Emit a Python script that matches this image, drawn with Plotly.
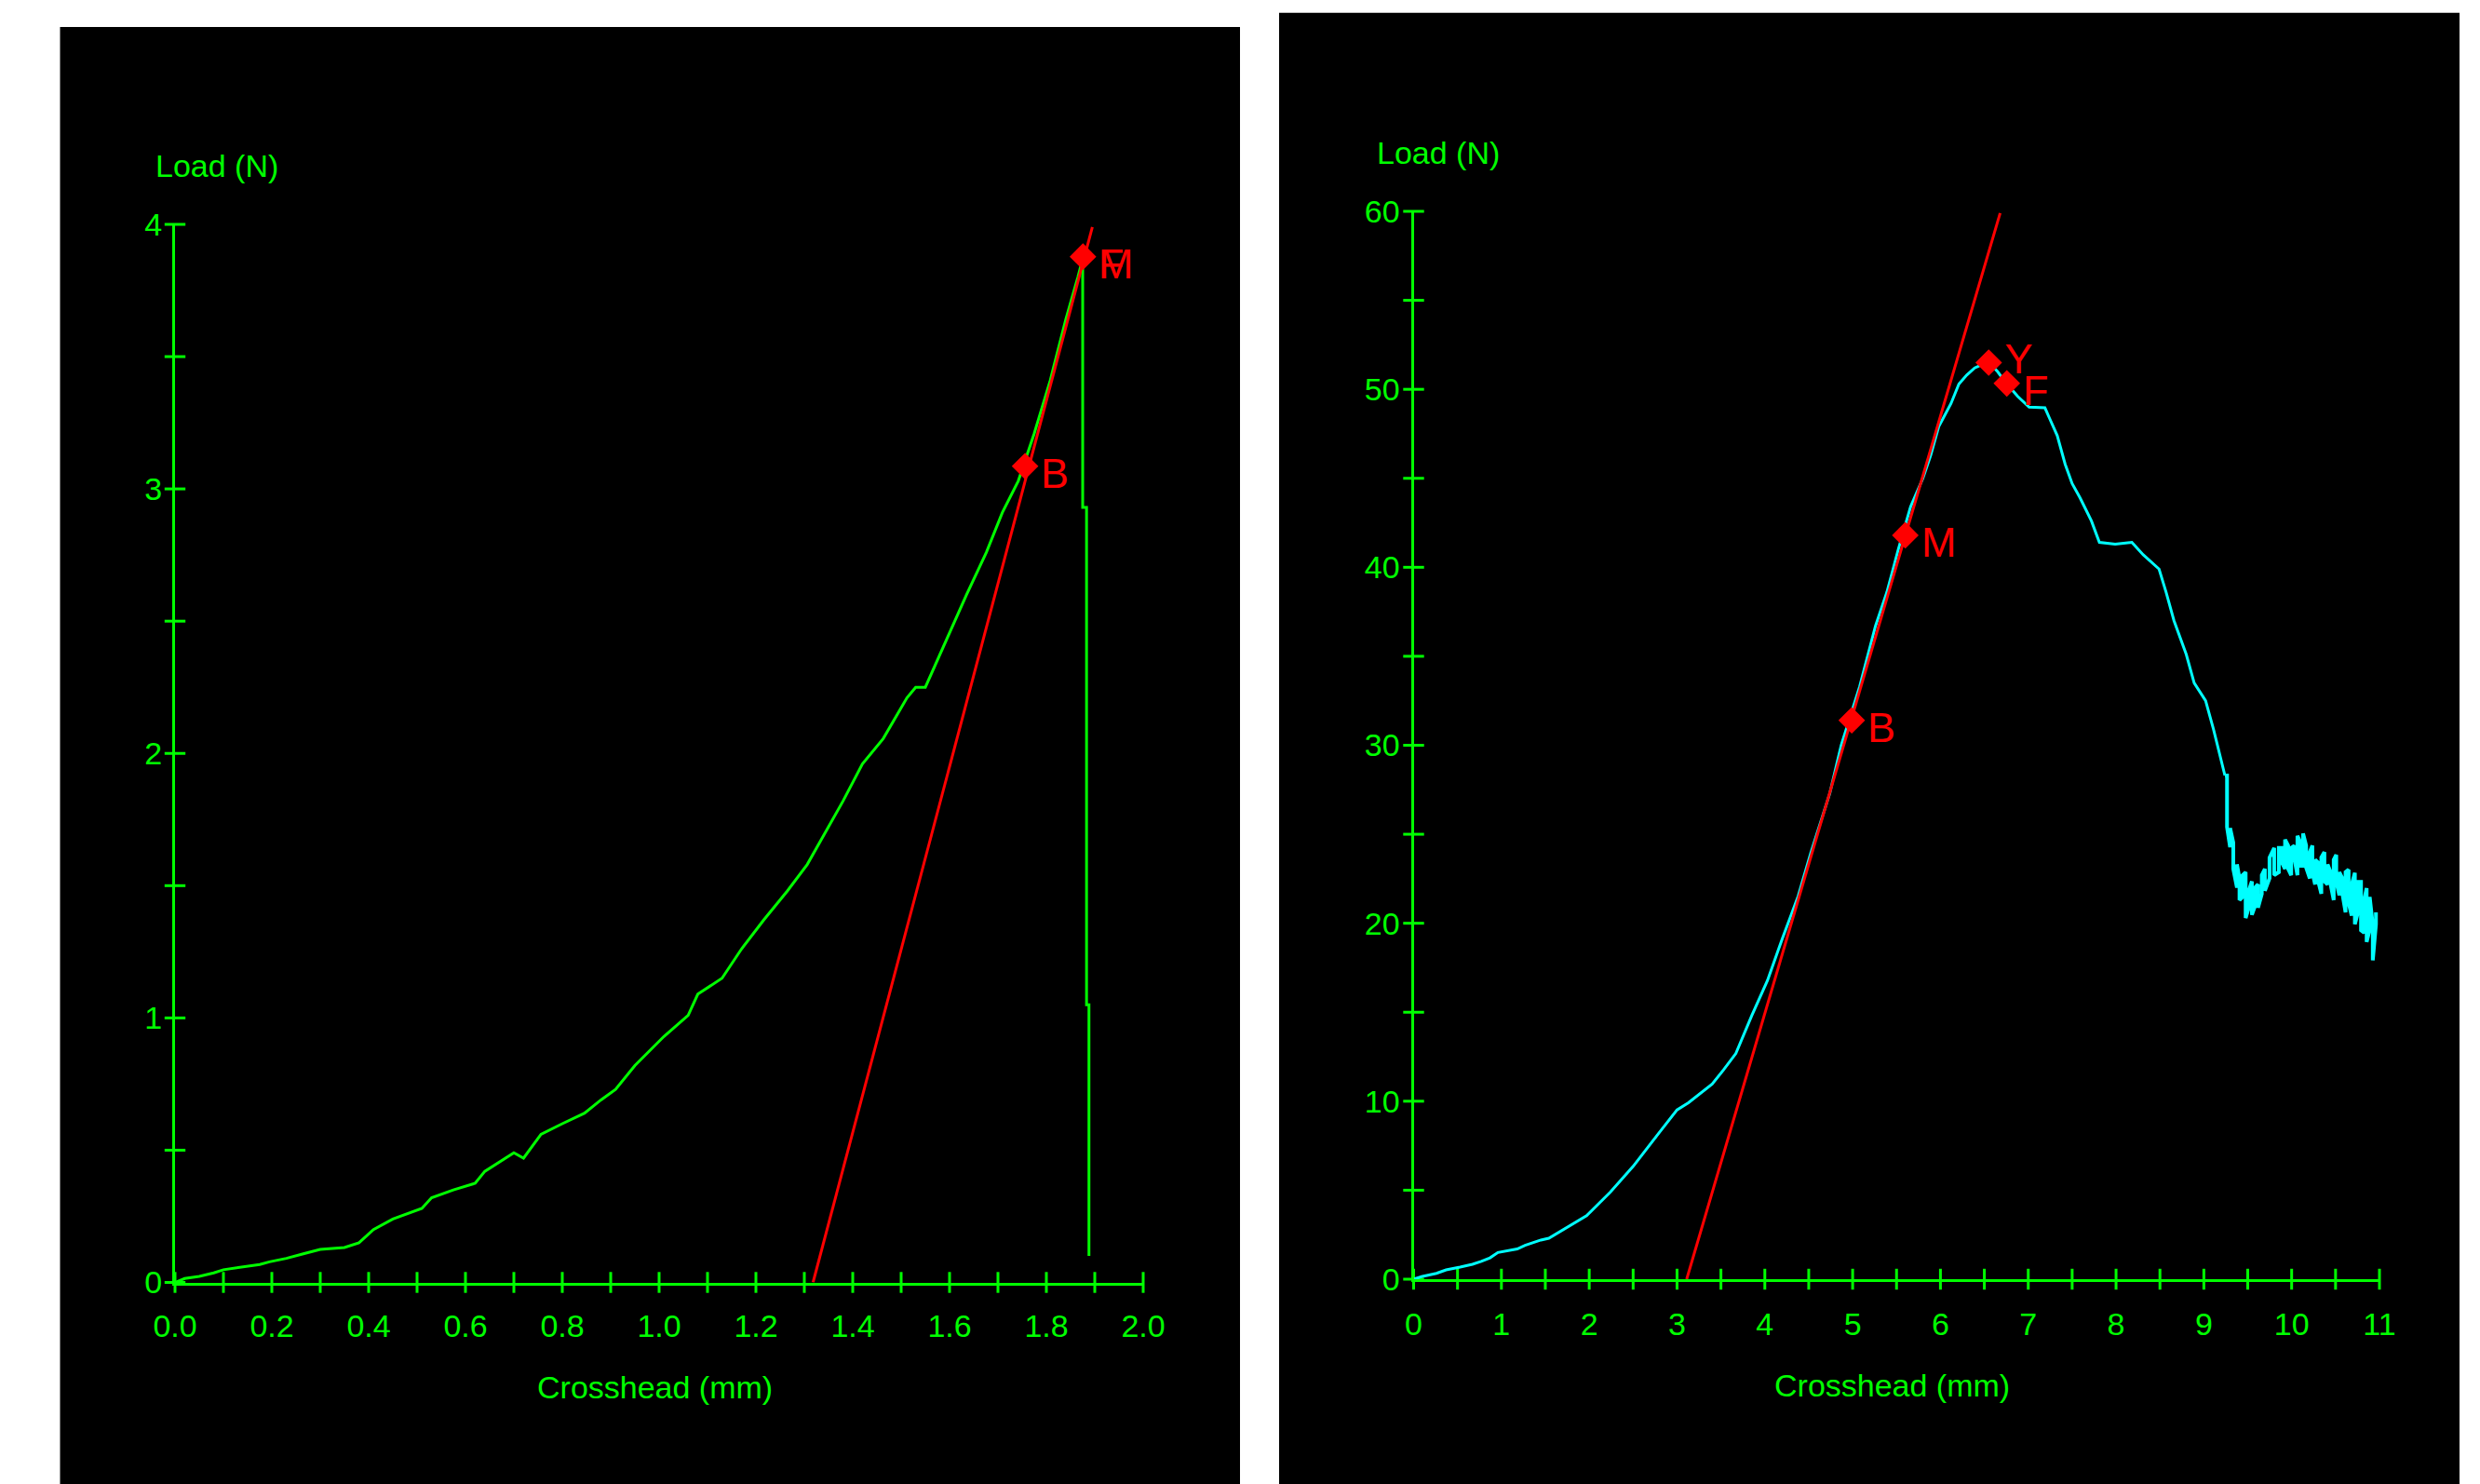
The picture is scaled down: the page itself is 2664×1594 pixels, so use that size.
import plotly.graph_objects as go

W, H = 2664, 1594
PAGE_OFF = 8  # the html body margin shifts the figure by this many pixels
GREEN = "#00FF00"
CYAN = "#00FFFF"
RED = "#FF0000"
FONT = "Liberation Sans, Arial, sans-serif"

# ---------------- Left chart data ----------------
left_x = [0.0, 0.02, 0.05, 0.08, 0.10, 0.14, 0.175, 0.195, 0.23, 0.265, 0.30, 0.35,
          0.38, 0.41, 0.45, 0.51, 0.53, 0.575, 0.62, 0.64, 0.70, 0.72, 0.756, 0.80,
          0.846, 0.88, 0.91, 0.95, 1.01, 1.06, 1.08, 1.13, 1.17, 1.216, 1.265, 1.306,
          1.34, 1.38, 1.42, 1.463, 1.512, 1.530, 1.55, 1.586, 1.635, 1.676, 1.709,
          1.742, 1.775, 1.808, 1.84, 1.865, 1.875, 1.875, 1.883, 1.883, 1.888, 1.888]
left_y = [0.0, 0.015, 0.023, 0.036, 0.048, 0.058, 0.068, 0.078, 0.091, 0.108, 0.125, 0.132,
          0.15, 0.20, 0.24, 0.28, 0.32, 0.35, 0.375, 0.42, 0.49, 0.47, 0.56, 0.60,
          0.64, 0.69, 0.73, 0.82, 0.93, 1.01, 1.09, 1.15, 1.26, 1.37, 1.48, 1.58,
          1.69, 1.82, 1.96, 2.056, 2.21, 2.25, 2.25, 2.40, 2.60, 2.76, 2.91,
          3.03, 3.21, 3.41, 3.64, 3.80, 3.87, 2.93, 2.93, 1.05, 1.05, 0.10]

left_fit_x = [1.318, 1.895]
left_fit_y = [0.0, 3.99]

left_pts_x = [1.756, 1.8756]
left_pts_y = [3.086, 3.878]
left_pt_labels = [["B"], ["F", "M"]]

left_xtick_vals = [0.0, 0.2, 0.4, 0.6, 0.8, 1.0, 1.2, 1.4, 1.6, 1.8, 2.0]
left_xtick_text = ["0.0", "0.2", "0.4", "0.6", "0.8", "1.0", "1.2", "1.4", "1.6", "1.8", "2.0"]
left_ytick_vals = [0, 1, 2, 3, 4]
left_ytick_text = ["0", "1", "2", "3", "4"]
left_xmarks = [i / 10 for i in range(21)]
left_ymarks = [i / 2 for i in range(9)]

# ---------------- Right chart data ----------------
right_x = [0.0, 0.09, 0.26, 0.37, 0.53, 0.67, 0.77, 0.87, 0.96, 1.09, 1.18, 1.27, 1.37,
           1.45, 1.54, 1.7, 1.97, 2.24, 2.5, 2.77, 3.0, 3.13, 3.4, 3.53, 3.67, 3.85,
           4.03, 4.2, 4.38, 4.52, 4.74, 4.87, 5.08, 5.26, 5.39, 5.52, 5.66, 5.8, 5.89,
           5.98, 6.12, 6.21, 6.3, 6.39, 6.48, 6.55, 6.65, 6.74, 6.88, 7.01, 7.19, 7.24,
           7.33, 7.42, 7.5, 7.59, 7.72, 7.81, 7.99, 8.18, 8.31, 8.49, 8.57, 8.66, 8.8,
           8.89, 9.02, 9.11, 9.17, 9.24]
right_y = [0.0, 0.14, 0.33, 0.52, 0.68, 0.84, 1.0, 1.2, 1.5, 1.6, 1.7, 1.9, 2.07,
           2.2, 2.3, 2.77, 3.57, 4.89, 6.34, 8.06, 9.51, 9.91, 10.96, 11.76, 12.68, 14.8,
           16.78, 19.15, 21.53, 23.9, 27.3, 30.0, 33.3, 36.7, 38.6, 41.0, 43.4, 45.0, 46.3,
           47.9, 49.2, 50.3, 50.8, 51.2, 51.4, 51.5, 51.0, 50.4, 49.6, 49.0, 48.96, 48.4,
           47.4, 45.8, 44.7, 43.9, 42.6, 41.4, 41.3, 41.4, 40.7, 39.9, 38.6, 37.0, 35.1,
           33.5, 32.5, 30.9, 29.7, 28.3]

# noisy tail: per column, upper and lower extent of the jagged trace
noise_x = [9.264, 9.299, 9.335, 9.377, 9.406, 9.441, 9.476, 9.511, 9.547, 9.582,
           9.617, 9.660, 9.695, 9.748, 9.801, 9.854, 9.890, 9.925, 9.960, 9.995,
           10.031, 10.066, 10.101, 10.130, 10.165, 10.207, 10.236, 10.267, 10.303, 10.338,
           10.373, 10.409, 10.444, 10.479, 10.508, 10.543, 10.578, 10.614, 10.649, 10.684,
           10.720, 10.755, 10.790, 10.826, 10.854, 10.889, 10.924, 10.960]
noise_hi = [28.3, 25.35, 24.53, 23.31, 22.52, 22.70, 22.87, 21.82, 22.35, 22.0,
            22.18, 22.70, 23.05, 23.69, 24.23, 24.23, 24.23, 24.70, 24.36, 24.23,
            24.36, 24.91, 24.53, 25.05, 24.36, 24.00, 24.36, 23.57, 23.40, 23.69,
            24.00, 23.31, 22.87, 23.57, 23.84, 22.87, 22.52, 22.87, 23.01, 22.18,
            22.83, 22.32, 22.32, 21.30, 21.97, 21.48, 19.91, 20.61]
noise_lo = [25.4, 24.27, 23.05, 22.00, 21.30, 21.48, 20.29, 20.87, 20.47, 20.96,
            20.87, 21.65, 21.82, 22.52, 22.70, 22.87, 23.40, 23.05, 23.05, 22.70,
            23.66, 22.70, 23.22, 23.22, 23.13, 22.52, 22.87, 22.18, 22.35, 21.65,
            22.35, 22.18, 22.18, 21.30, 22.35, 21.57, 21.65, 20.61, 21.13, 20.43,
            19.94, 20.61, 19.60, 19.47, 18.95, 19.65, 17.91, 19.94]

right_fit_x = [3.11, 6.68]
right_fit_y = [0.0, 59.9]

right_pts_x = [4.99, 5.60, 6.55, 6.756]
right_pts_y = [31.4, 41.8, 51.5, 50.33]
right_pt_labels = ["B", "M", "Y", "F"]

right_xtick_vals = [0, 1, 2, 3, 4, 5, 6, 7, 8, 9, 10, 11]
right_xtick_text = ["0", "1", "2", "3", "4", "5", "6", "7", "8", "9", "10", "11"]
right_ytick_vals = [0, 10, 20, 30, 40, 50, 60]
right_ytick_text = ["0", "10", "20", "30", "40", "50", "60"]
right_xmarks = [i / 2 for i in range(23)]
right_ymarks = [i * 5 for i in range(13)]

# zig-zag ordering for the noisy tail (alternate high/low per column),
# starting from the last point of the smooth part so the line is continuous
zz_x, zz_y = [right_x[-1]], [right_y[-1]]
for i, (xv, hv, lv) in enumerate(zip(noise_x, noise_hi, noise_lo)):
    pair = (hv, lv) if i % 2 == 0 else (lv, hv)
    zz_x += [xv, xv]
    zz_y += list(pair)

fig = go.Figure()

tick_marker = dict(size=16, line=dict(width=3, color=GREEN))
# tick marks crossing the axes
fig.add_trace(go.Scatter(x=left_xmarks, y=[0] * len(left_xmarks), mode="markers",
                         marker=dict(symbol="line-ns", **tick_marker),
                         xaxis="x", yaxis="y", cliponaxis=False, hoverinfo="skip", showlegend=False))
fig.add_trace(go.Scatter(x=[0] * len(left_ymarks), y=left_ymarks, mode="markers",
                         marker=dict(symbol="line-ew", **tick_marker),
                         xaxis="x", yaxis="y", cliponaxis=False, hoverinfo="skip", showlegend=False))
fig.add_trace(go.Scatter(x=right_xmarks, y=[0] * len(right_xmarks), mode="markers",
                         marker=dict(symbol="line-ns", **tick_marker),
                         xaxis="x2", yaxis="y2", cliponaxis=False, hoverinfo="skip", showlegend=False))
fig.add_trace(go.Scatter(x=[0] * len(right_ymarks), y=right_ymarks, mode="markers",
                         marker=dict(symbol="line-ew", **tick_marker),
                         xaxis="x2", yaxis="y2", cliponaxis=False, hoverinfo="skip", showlegend=False))

# left curves
fig.add_trace(go.Scatter(x=left_x, y=left_y, mode="lines", line=dict(color=GREEN, width=3),
                         xaxis="x", yaxis="y", cliponaxis=False, showlegend=False))
fig.add_trace(go.Scatter(x=left_fit_x, y=left_fit_y, mode="lines", line=dict(color=RED, width=3),
                         xaxis="x", yaxis="y", cliponaxis=False, showlegend=False))
fig.add_trace(go.Scatter(x=left_pts_x, y=left_pts_y, mode="markers",
                         marker=dict(symbol="diamond", size=22, color=RED, line=dict(width=0)),
                         xaxis="x", yaxis="y", cliponaxis=False, showlegend=False))

# right curves
fig.add_trace(go.Scatter(x=right_x, y=right_y, mode="lines", line=dict(color=CYAN, width=3),
                         xaxis="x2", yaxis="y2", cliponaxis=False, showlegend=False))
fig.add_trace(go.Scatter(x=zz_x, y=zz_y, mode="lines", line=dict(color=CYAN, width=4),
                         xaxis="x2", yaxis="y2", cliponaxis=False, showlegend=False))
fig.add_trace(go.Scatter(x=right_fit_x, y=right_fit_y, mode="lines", line=dict(color=RED, width=3),
                         xaxis="x2", yaxis="y2", cliponaxis=False, showlegend=False))
# "Y" label drawn beneath the markers (it is partly hidden by the F diamond)
fig.add_trace(go.Scatter(x=[right_pts_x[2]], y=[right_pts_y[2]], mode="markers+text",
                         text=[right_pt_labels[2]], textposition="middle right",
                         textfont=dict(family=FONT, size=45, color=RED),
                         marker=dict(size=26, opacity=0),
                         xaxis="x2", yaxis="y2", cliponaxis=False, showlegend=False))
fig.add_trace(go.Scatter(x=right_pts_x, y=right_pts_y, mode="markers",
                         marker=dict(symbol="diamond", size=22, color=RED, line=dict(width=0)),
                         xaxis="x2", yaxis="y2", cliponaxis=False, showlegend=False))

annotations = []
for xv, yv, labs in zip(left_pts_x, left_pts_y, left_pt_labels):
    for lab in labs:
        annotations.append(dict(x=xv, y=yv, xref="x", yref="y", text=lab, showarrow=False,
                                xanchor="left", yanchor="middle", xshift=15, yshift=-8,
                                font=dict(family=FONT, size=45, color=RED)))
for xv, yv, lab in zip(right_pts_x, right_pts_y, right_pt_labels):
    if lab == "Y":
        continue
    annotations.append(dict(x=xv, y=yv, xref="x2", yref="y2", text=lab, showarrow=False,
                            xanchor="left", yanchor="middle", xshift=15, yshift=-8,
                            font=dict(family=FONT, size=45, color=RED)))


def tx(p):
    return (p - PAGE_OFF) / W


def ty(p):
    return 1 - (p - PAGE_OFF) / H


title_font = dict(family=FONT, size=34, color=GREEN)
annotations += [
    dict(x=tx(233), y=ty(178), xref="paper", yref="paper", text="Load (N)", showarrow=False,
         xanchor="center", yanchor="middle", font=title_font),
    dict(x=tx(1544.5), y=ty(164), xref="paper", yref="paper", text="Load (N)", showarrow=False,
         xanchor="center", yanchor="middle", font=title_font),
    dict(x=tx(703), y=ty(1490), xref="paper", yref="paper", text="Crosshead (mm)", showarrow=False,
         xanchor="center", yanchor="middle", font=title_font),
    dict(x=tx(2032), y=ty(1488), xref="paper", yref="paper", text="Crosshead (mm)", showarrow=False,
         xanchor="center", yanchor="middle", font=title_font),
]

shapes = [
    dict(type="rect", xref="paper", yref="paper", x0=tx(64.5), x1=tx(1332), y0=0, y1=ty(29),
         fillcolor="black", line=dict(width=0), layer="below"),
    dict(type="rect", xref="paper", yref="paper", x0=tx(1374), x1=tx(2642), y0=0, y1=ty(13.7),
         fillcolor="black", line=dict(width=0), layer="below"),
]

tick_font = dict(family=FONT, size=34, color=GREEN)
axis_common = dict(showgrid=False, zeroline=False, showline=True, linecolor=GREEN, linewidth=3,
                   ticks="", tickfont=tick_font, fixedrange=True, automargin=False)

fig.update_layout(
    width=W, height=H, margin=dict(l=0, r=0, t=0, b=0, pad=0, autoexpand=False),
    paper_bgcolor="white", plot_bgcolor="rgba(0,0,0,0)",
    showlegend=False,
    xaxis=dict(domain=[tx(188), tx(1228)], range=[0, 2.0], anchor="y",
               tickvals=left_xtick_vals, ticktext=left_xtick_text, ticklabelstandoff=15, **axis_common),
    yaxis=dict(domain=[ty(1377.5), ty(241)], range=[0, 4], anchor="x",
               tickvals=left_ytick_vals, ticktext=left_ytick_text, ticklabelstandoff=4, **axis_common),
    xaxis2=dict(domain=[tx(1518.5), tx(2556)], range=[0, 11], anchor="y2",
                tickvals=right_xtick_vals, ticktext=right_xtick_text, ticklabelstandoff=16, **axis_common),
    yaxis2=dict(domain=[ty(1374), ty(227)], range=[0, 60], anchor="x2",
                tickvals=right_ytick_vals, ticktext=right_ytick_text, ticklabelstandoff=5, **axis_common),
    annotations=annotations,
    shapes=shapes,
)

fig.write_html("out.html")
